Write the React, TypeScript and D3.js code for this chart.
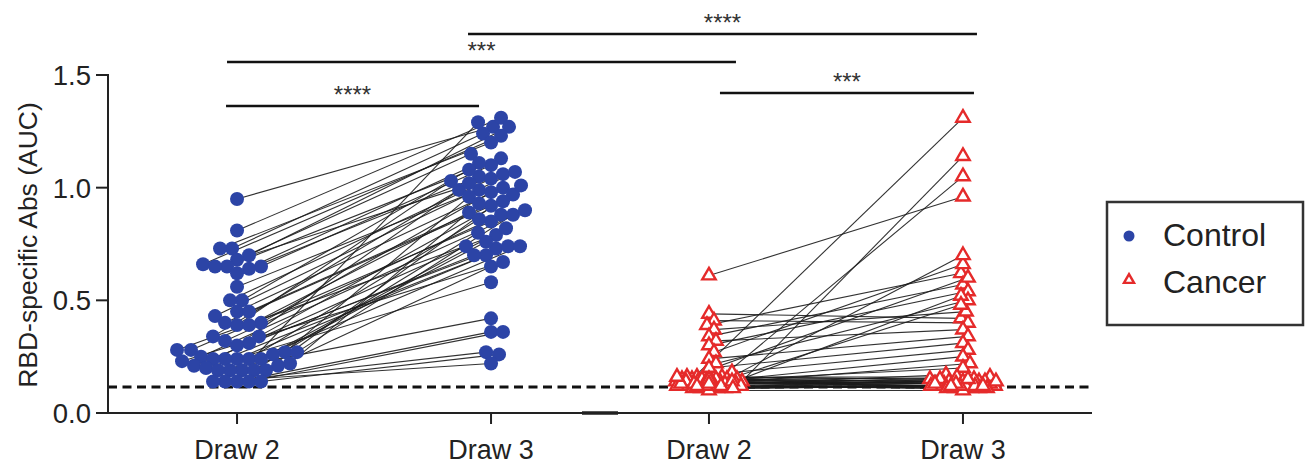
import React from "react";
import * as d3 from "d3";

// ---------- data ----------
const controlDraw2 = [
  0.95, 0.81, 0.73, 0.73, 0.7, 0.68, 0.66, 0.65, 0.65, 0.65, 0.64, 0.62, 0.56, 0.5, 0.5, 0.45, 0.45, 0.43,
  0.4, 0.4, 0.39, 0.39, 0.34, 0.34, 0.32, 0.31, 0.3, 0.28, 0.28, 0.27, 0.27, 0.26, 0.25, 0.24, 0.24, 0.24,
  0.24, 0.24, 0.23, 0.22, 0.21, 0.21, 0.2, 0.19, 0.19, 0.19, 0.19, 0.19, 0.14, 0.14, 0.14, 0.14, 0.14,
];
const controlDraw3 = [
  1.27, 1.31, 1.24, 1.2, 1.27, 1.15, 1.23, 1.13, 1.06, 1.1, 1.05, 1.11, 0.99, 1.08, 1.04, 1.0, 0.97, 1.07,
  0.92, 0.98, 1.03, 0.89, 0.94, 0.99, 0.88, 0.73, 1.02, 0.85, 0.79, 0.96, 0.88, 0.76, 0.9, 0.74, 0.86, 0.7,
  0.82, 0.74, 0.67, 0.93, 0.65, 0.7, 0.58, 1.29, 0.74, 0.8, 0.42, 1.01, 0.36, 0.36, 0.27, 0.26, 0.22,
];
const cancerDraw2 = [
  0.61, 0.44, 0.41, 0.39, 0.37, 0.34, 0.32, 0.3, 0.27, 0.24, 0.22, 0.2, 0.18, 0.15, 0.14, 0.16, 0.15, 0.14,
  0.13, 0.14, 0.13, 0.12, 0.15, 0.13, 0.16, 0.15, 0.14, 0.13, 0.12, 0.11, 0.16, 0.15, 0.14, 0.13, 0.12, 0.11,
  0.1, 0.15, 0.14, 0.13, 0.12, 0.11, 0.16, 0.14, 0.13, 0.12, 0.11, 0.15, 0.13, 0.12, 0.14, 0.11, 0.13, 0.12,
];
const cancerDraw3 = [
  0.96, 0.42, 0.4, 0.62, 0.45, 0.57, 0.37, 0.54, 0.66, 0.34, 0.5, 0.31, 0.28, 1.31, 1.14, 1.05, 0.7, 0.6,
  0.52, 0.48, 0.25, 0.22, 0.2, 0.17, 0.15, 0.13, 0.12, 0.14, 0.11, 0.12, 0.16, 0.14, 0.13, 0.12, 0.11, 0.15,
  0.1, 0.13, 0.12, 0.14, 0.11, 0.12, 0.15, 0.13, 0.16, 0.11, 0.12, 0.14, 0.13, 0.12, 0.11, 0.15, 0.14, 0.12,
];
const groups = ["Control", "Cancer"];
const drawLabels = ["Draw 2", "Draw 3"];
const yTicks = [0, 0.5, 1.0, 1.5];
const thresholdValue = 0.115;
const comparisons = [
  { from: 0, to: 1, label: "****" },
  { from: 2, to: 3, label: "***" },
  { from: 0, to: 2, label: "***" },
  { from: 1, to: 3, label: "****" },
];

// ---------- layout / style ----------
const W = 1306;
const H = 465;
const FONT = "'Liberation Sans', Arial, Helvetica, sans-serif";
const BLUE = "#2c44a6";
const RED = "#e52a2a";
const INK = "#222";
const GROUP_SHIFT = -0.142;
const barY = [106, 93, 62, 34];
const barOffsets = [
  [-11, -12],
  [11, 11],
  [-10, 27],
  [-23, 14],
];

const slot = (g: number, d: number) => g * (2 + GROUP_SHIFT) + d;

const x = d3.scaleLinear().domain([-0.508, 3.366]).range([108, 1092]);
const y = d3.scaleLinear().domain([0, 1.5]).range([413, 75]);

function swarm(values: number[], minDist: number, maxHalf: number): number[] {
  const order = values.map((_, i) => i).sort((a, b) => values[a] - values[b]);
  const placed: { dx: number; py: number }[] = [];
  const out = new Array(values.length).fill(0);
  const cands: number[] = [0];
  for (let k = 1; k <= maxHalf; k++) cands.push(k, -k);
  for (const i of order) {
    const py = y(values[i]);
    let best = 0;
    let bestScore = -1;
    let found = false;
    for (const c of cands) {
      let minD = Infinity;
      for (const p of placed) {
        const dd = Math.hypot(p.dx - c, p.py - py);
        if (dd < minD) minD = dd;
      }
      if (minD >= minDist) {
        best = c;
        found = true;
        break;
      }
      if (minD > bestScore) {
        bestScore = minD;
        best = c;
      }
    }
    if (!found && bestScore < 0) best = 0;
    placed.push({ dx: best, py });
    out[i] = best;
  }
  return out;
}

const triPath = (size: number) => d3.symbol().type(d3.symbolTriangle).size(size)() as string;

export default function App() {
  const series = [
    { d2: controlDraw2, d3: controlDraw3, g: 0 },
    { d2: cancerDraw2, d3: cancerDraw3, g: 1 },
  ];
  const tickPositions = [slot(0, 0), slot(0, 1), slot(1, 0), slot(1, 1)];
  const tri = triPath(78);
  const triLegend = triPath(44);

  const layers = series.map((s) => {
    const isCtrl = s.g === 0;
    const dist = isCtrl ? 12 : 8;
    const half = isCtrl ? 62 : 33;
    const off2 = swarm(s.d2, dist, half);
    const off3 = swarm(s.d3, dist, half);
    const cx2 = x(slot(s.g, 0));
    const cx3 = x(slot(s.g, 1));
    const p2 = s.d2.map((v, i) => [cx2 + off2[i], y(v)]);
    const p3 = s.d3.map((v, i) => [cx3 + off3[i], y(v)]);
    return { isCtrl, p2, p3 };
  });

  return (
    <svg
      width={W}
      height={H}
      style={{ position: "absolute", left: 0, top: 0, background: "#fff" }}
      fontFamily={FONT}
    >
      <rect width={W} height={H} fill="#fff" />
      {/* threshold line */}
      <line
        x1={x.range()[0]}
        x2={x.range()[1]}
        y1={y(thresholdValue)}
        y2={y(thresholdValue)}
        stroke="#111"
        strokeWidth={3}
        strokeDasharray="9 5.5"
      />
      {/* pair lines */}
      {layers.map((L, li) => (
        <g key={"l" + li} stroke="#1c1c1c" strokeWidth={1.1} strokeOpacity={0.9}>
          {L.p2.map((p, i) => (
            <line key={i} x1={p[0]} y1={p[1]} x2={L.p3[i][0]} y2={L.p3[i][1]} />
          ))}
        </g>
      ))}
      {/* points */}
      {layers.map((L, li) =>
        L.isCtrl ? (
          <g key={"p" + li} fill={BLUE}>
            {[...L.p2, ...L.p3].map((p, i) => (
              <circle key={i} cx={p[0]} cy={p[1]} r={7} />
            ))}
          </g>
        ) : (
          <g key={"p" + li} fill="#fff" stroke={RED} strokeWidth={2.4}>
            {[...L.p2, ...L.p3].map((p, i) => (
              <path key={i} d={tri} transform={`translate(${p[0]},${p[1]})`} />
            ))}
          </g>
        )
      )}
      {/* y axis */}
      <line x1={108} x2={108} y1={y(0)} y2={y(1.5) - 1} stroke={INK} strokeWidth={2} />
      {yTicks.map((t) => (
        <g key={t}>
          <line x1={96} x2={108} y1={y(t)} y2={y(t)} stroke={INK} strokeWidth={2} />
          <text x={91} y={y(t)} dy="0.36em" textAnchor="end" fontSize={27.5} fill={INK}>
            {d3.format(".1f")(t)}
          </text>
        </g>
      ))}
      <text
        transform={`translate(37,${(y(0) + y(1.5)) / 2 + 1}) rotate(-90)`}
        textAnchor="middle"
        fontSize={26.5}
        fill={INK}
      >
        RBD-specific Abs (AUC)
      </text>
      {/* x axis */}
      <line x1={107} x2={x.range()[1]} y1={y(0)} y2={y(0)} stroke={INK} strokeWidth={2} />
      <line
        x1={(x(slot(0, 1)) + x(slot(1, 0))) / 2 - 18}
        x2={(x(slot(0, 1)) + x(slot(1, 0))) / 2 + 18}
        y1={y(0)}
        y2={y(0)}
        stroke={INK}
        strokeWidth={3.5}
      />
      {tickPositions.map((tp, i) => (
        <g key={i}>
          <line x1={x(tp)} x2={x(tp)} y1={y(0)} y2={y(0) + 11} stroke={INK} strokeWidth={2} />
          <text x={x(tp)} y={459} textAnchor="middle" fontSize={27} fill={INK}>
            {drawLabels[i % 2]}
          </text>
        </g>
      ))}
      {/* significance bars */}
      {comparisons.map((c, i) => {
        const x1 = x(tickPositions[c.from]) + barOffsets[i][0];
        const x2 = x(tickPositions[c.to]) + barOffsets[i][1];
        return (
          <g key={i}>
            <line x1={x1} x2={x2} y1={barY[i]} y2={barY[i]} stroke="#111" strokeWidth={2.5} />
            <text x={(x1 + x2) / 2} y={barY[i] - 3} textAnchor="middle" fontSize={24} fill="#333">
              {c.label}
            </text>
          </g>
        );
      })}
      {/* legend */}
      <rect x={1107} y={202} width={196} height={123} fill="#fff" stroke="#333" strokeWidth={2.5} />
      <circle cx={1129} cy={236} r={5.5} fill={BLUE} />
      <path d={triLegend} transform="translate(1129,280)" fill="#fff" stroke={RED} strokeWidth={2.4} />
      <text x={1163} y={246} fontSize={32} fill={INK}>
        {groups[0]}
      </text>
      <text x={1163} y={293} fontSize={32} fill={INK}>
        {groups[1]}
      </text>
    </svg>
  );
}
